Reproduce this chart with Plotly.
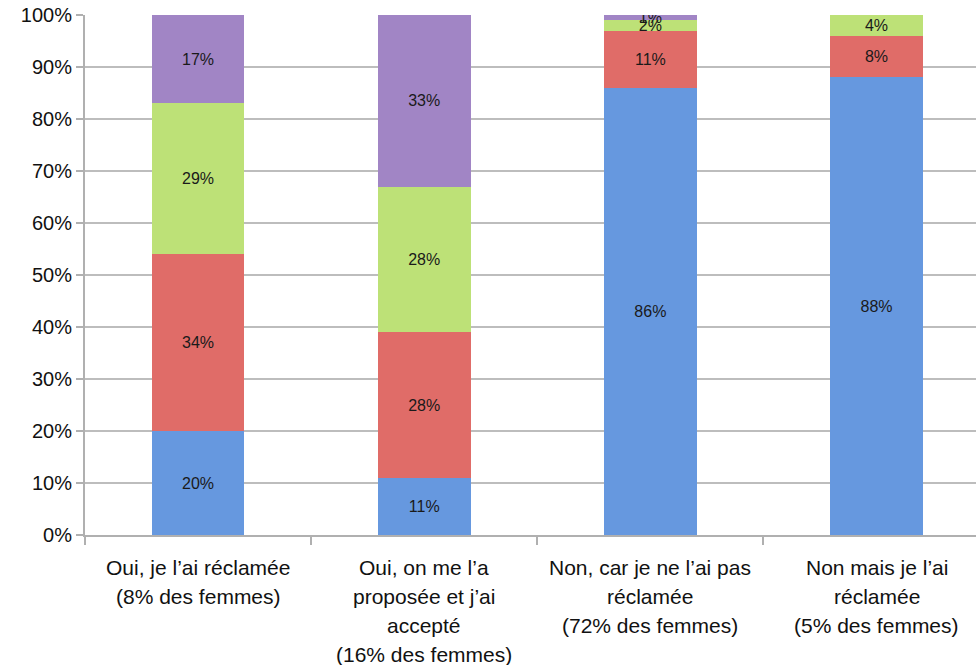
import plotly.graph_objects as go

categories = [
    "Oui, je l’ai réclamée<br>(8% des femmes)",
    "Oui, on me l’a<br>proposée et j’ai<br>accepté<br>(16% des femmes)",
    "Non, car je ne l’ai pas<br>réclamée<br>(72% des femmes)",
    "Non mais je l’ai<br>réclamée<br>(5% des femmes)",
]
series_blue = [20, 11, 86, 88]
series_red = [34, 28, 11, 8]
series_green = [29, 28, 2, 4]
series_purple = [17, 33, 1, 0]
y_ticks = [0, 10, 20, 30, 40, 50, 60, 70, 80, 90, 100]

colors = ["#6698DF", "#E06C68", "#BDE177", "#A185C5"]
FONT = "Liberation Sans, Arial, sans-serif"

fig = go.Figure()
for vals, col in zip([series_blue, series_red, series_green, series_purple], colors):
    fig.add_trace(go.Bar(
        x=categories, y=vals,
        text=[f"{v}%" if v > 0 else "" for v in vals],
        textposition="inside", insidetextanchor="middle",
        textfont=dict(family=FONT, size=16, color="#1a1a1a"),
        marker=dict(color=col, line=dict(width=0)),
        width=0.41, showlegend=False,
    ))

# category labels as multi-line annotations (wider line spacing than tick labels allow)
for cat in categories:
    for i, line in enumerate(cat.split("<br>")):
        fig.add_annotation(
            x=cat, xref="x", y=0, yref="paper", yanchor="middle",
            yshift=-32 - 29 * i, text=line, showarrow=False,
            font=dict(family=FONT, size=21, color="#111"),
        )

fig.update_layout(
    barmode="stack",
    width=976, height=665,
    margin=dict(l=85, r=0, t=15, b=130),
    paper_bgcolor="white", plot_bgcolor="white",
    uniformtext=dict(minsize=16, mode="show"),
    font=dict(family=FONT, size=20, color="#111"),
)
fig.update_yaxes(
    range=[0, 100], tickvals=y_ticks, ticktext=[f"{v}%" for v in y_ticks],
    showgrid=True, gridcolor="#BDBDBD", gridwidth=2,
    showline=True, linecolor="#B0B0B0", linewidth=2,
    ticks="outside", ticklen=7, tickcolor="#B0B0B0", tickwidth=2,
    tickfont=dict(family=FONT, size=20, color="#111"), zeroline=False,
    automargin=False,
)
fig.update_xaxes(
    range=[-0.5, 3.44], tickson="boundaries",
    showline=True, linecolor="#B0B0B0", linewidth=2,
    ticks="outside", ticklen=8, tickcolor="#B0B0B0", tickwidth=2,
    showticklabels=False, showgrid=False, automargin=False,
)
fig.write_html("out.html", config={"displayModeBar": False},
               post_script="document.body.style.margin='0px';")
